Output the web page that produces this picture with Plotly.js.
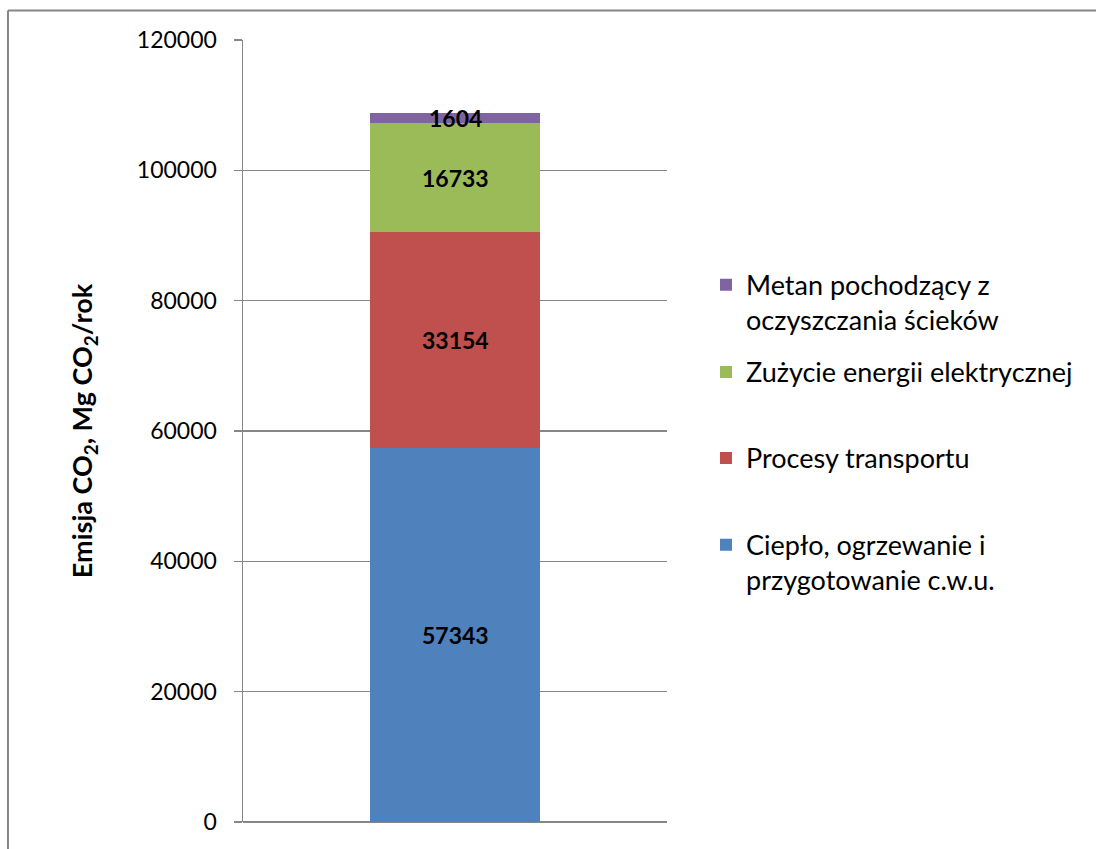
<!DOCTYPE html>
<html>
<head>
<meta charset="utf-8">
<script src="https://cdn.plot.ly/plotly-3.0.1.min.js"></script>
<style>
  html, body { margin: 0; padding: 0; width: 1096px; height: 849px; overflow: hidden; background: #fff; }
  #chart { position: absolute; left: 0; top: 0; width: 1096px; height: 849px; }
</style>
</head>
<body>
<div id="chart"></div>
<script>
// Data
const categories = ['Emisja'];
const seriesNames = [
  'Ciepło, ogrzewanie i<br>przygotowanie c.w.u.',
  'Procesy transportu',
  'Zużycie energii elektrycznej',
  'Metan pochodzący z<br>oczyszczania ścieków'
];
const cieplo = [57343];
const transport = [33154];
const energia = [16733];
const metan = [1604];
const seriesValues = [cieplo, transport, energia, metan];
const colors = ['#4F81BD', '#C0504D', '#9BBB59', '#8064A2'];
const yTicks = [0, 20000, 40000, 60000, 80000, 100000, 120000];

const FONT = 'Lato, "Open Sans", sans-serif';
const legendIds = ['legend4', 'legend3', 'legend2', 'legend'];

const traces = seriesValues.map((vals, i) => ({
  type: 'bar',
  x: categories,
  y: vals,
  name: seriesNames[i],
  marker: { color: colors[i], line: { width: 0 } },
  legend: legendIds[i],
  hoverinfo: 'none'
}));

// data labels centred in each segment
const annotations = [];
let cum = 0;
seriesValues.forEach((vals) => {
  const v = vals[0];
  annotations.push({
    x: categories[0], y: cum + v / 2, xref: 'x', yref: 'y',
    text: String(v), showarrow: false,
    font: { family: FONT, size: 23, color: '#000', weight: 'bold' }
  });
  cum += v;
});

const legendBase = {
  x: 1.092, xanchor: 'left', yanchor: 'middle',
  bgcolor: 'rgba(0,0,0,0)', borderwidth: 0,
  font: { family: FONT, size: 27, color: '#000' }
};

const layout = {
  width: 1096, height: 849,
  margin: { l: 243, r: 429, t: 40, b: 27 },
  paper_bgcolor: '#fff',
  plot_bgcolor: 'rgba(0,0,0,0)',
  barmode: 'stack',
  bargap: 0.6,
  showlegend: true,
  legend:  Object.assign({}, legendBase, { y: 0.664, valign: 'top' }),
  legend2: Object.assign({}, legendBase, { y: 0.575 }),
  legend3: Object.assign({}, legendBase, { y: 0.465 }),
  legend4: Object.assign({}, legendBase, { y: 0.3316, valign: 'top' }),
  xaxis: {
    type: 'category',
    showticklabels: false, ticks: '', showgrid: false, showline: false, zeroline: false,
    fixedrange: true
  },
  yaxis: {
    range: [0, 120000],
    tickvals: yTicks,
    ticktext: yTicks.map(String),
    ticks: 'outside', ticklen: 8, tickwidth: 1.5, tickcolor: '#868686',
    showgrid: true, gridcolor: '#868686', gridwidth: 1.5,
    showline: true, linecolor: '#868686', linewidth: 1.5,
    zeroline: true, zerolinecolor: '#868686', zerolinewidth: 1.5,
    ticklabelstandoff: 12,
    tickfont: { family: FONT, size: 23, color: '#000' },
    title: {
      text: 'Emisja CO<sub>2</sub>, Mg CO<sub>2</sub>/rok',
      font: { family: FONT, size: 27, color: '#000', weight: 'bold' },
      standoff: 36
    },
    automargin: false,
    fixedrange: true
  },
  shapes: [
    { // frame: left edge
      type: 'line', xref: 'paper', yref: 'paper', layer: 'below',
      x0: -0.5543, x1: -0.5543, y0: -0.3, y1: 1.0377,
      line: { color: '#868686', width: 2 }
    },
    { // frame: top edge (runs off the right side as in the reference)
      type: 'line', xref: 'paper', yref: 'paper', layer: 'below',
      x0: -0.5543, x1: 2.5, y0: 1.0377, y1: 1.0377,
      line: { color: '#868686', width: 2 }
    }
  ],
  annotations: annotations
};

Plotly.newPlot('chart', traces, layout, { displayModeBar: false, staticPlot: true });
</script>
</body>
</html>
